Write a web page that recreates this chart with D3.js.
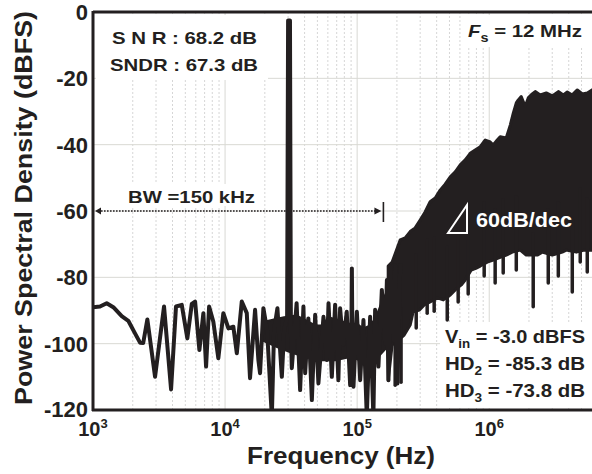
<!DOCTYPE html>
<html>
<head>
<meta charset="utf-8">
<script src="https://cdn.jsdelivr.net/npm/d3@7"></script>
<style>
  body { margin: 0; background: #fff; }
  svg text { font-family: "Liberation Sans", Arial, sans-serif; font-weight: bold; fill: #231f20; }
</style>
</head>
<body>
<div id="chart"></div>
<script>
// Output spectrum: [frequency (Hz), dBFS]
// in-band part, drawn as a thick line (includes the tone and HD3)
const lowBand = [
  [1000, -89.0], [1130, -88.8], [1270, -87.8], [1425, -89.0], [1650, -91.7], [1850, -93.1],
  [2080, -96.9], [2270, -99.7], [2400, -99.8], [2580, -92.7], [2950, -110.0], [3450, -88.8],
  [3900, -113.8], [4250, -88.8], [4700, -88.3], [5180, -98.4], [5600, -88.0], [5930, -87.3],
  [6390, -101.9], [6850, -90.8], [7180, -106.9], [7570, -88.8], [8150, -93.4], [8890, -104.4],
  [9700, -90.8], [10600, -95.4], [11550, -94.9], [12270, -102.9], [13380, -87.3], [14600, -90.8],
  [15450, -110.4], [16870, -89.8], [17870, -104.9], [18400, -108.9], [19500, -89.3], [20800, -95.9],
  [22600, -122], [23500, -95.9], [24900, -89.3], [26900, -110], [28000, -95.9], [29500, -92],
  [30000, -2.6], [31000, -2.6], [31500, -96],
  [32000, -107.4], [34800, -87.8], [37000, -114], [39200, -88.8], [40400, -108.9], [42700, -92.4],
  [45400, -117], [48100, -91.3], [50900, -112], [55600, -91.9], [58900, -104.9], [60700, -87.8],
  [64300, -110], [68100, -88.3], [72100, -111], [74300, -89.3], [78300, -100.4], [83400, -90.4],
  [88500, -112.5], [90300, -100], [91200, -77.3], [92100, -100], [93800, -113], [99500, -90.4],
  [105400, -111], [111600, -92.9], [118300, -122], [125400, -91.9], [132700, -122], [136800, -89.8],
  [144900, -106.9], [153800, -83.8], [163000, -99.9], [168000, -80.8], [172600, -111], [178000, -76.8],
  [188400, -98.9], [194000, -76.3], [202000, -112], [212000, -75.8]
];

// the dense core of the in-band noise, upper and lower edge
const inBandTop = [
  [19060, -93.5], [24770, -92.5], [28000, -92], [34500, -91.5], [39000, -92.5], [48100, -94.5],
  [55300, -94.5], [60300, -92], [74300, -93], [83900, -94], [100000, -94], [111000, -95.5],
  [125400, -94.5], [136800, -92.5], [152000, -88], [168800, -84]
];
const inBandBottom = [
  [19060, -99], [24770, -101], [31000, -102.5], [40400, -104], [52500, -105], [68100, -105],
  [88500, -104], [115000, -105.5], [144300, -104], [168800, -101]
];

// shaped noise above the band: upper and lower edge of the dense black mass
const noiseTop = [
  [171800, -76.6], [184000, -75.4], [212000, -68.7], [231000, -68.1], [252000, -66.2], [275000, -65.1],
  [300000, -62.7], [327000, -60.3], [357000, -57.2], [390000, -56.1], [425000, -53.7], [464000, -51.9],
  [507000, -49.7], [553000, -48.2], [603000, -46.1], [658000, -44.6], [718000, -42.6], [783000, -41.6],
  [855000, -40.6], [933000, -38.6], [1018000, -39.2], [1072000, -40.1], [1150000, -38.6], [1211000, -37.6],
  [1345000, -38.0], [1443000, -34.1], [1521000, -30.5], [1603000, -27.4], [1660000, -26.5], [1747000, -25.5],
  [1873000, -28.5], [1974000, -25.9], [2117000, -24.7], [2230000, -24.0], [2434000, -25.0], [2703000, -24.4],
  [3000000, -25.3], [3335000, -24.0], [3640000, -25.0], [3900000, -24.1], [4254000, -25.0], [4645000, -23.5],
  [5070000, -24.7], [5525000, -24.4], [6000000, -23.5]
];
const noiseBottom = [
  [171800, -111], [184000, -100.4], [205000, -98.9], [227000, -97.4], [252000, -94.4], [265000, -90.5],
  [295000, -89.9], [322000, -88.3], [357000, -87.4], [404000, -86.2], [449000, -86.8], [507000, -85.3],
  [553000, -83.8], [614000, -82.3], [658000, -80.8], [731000, -77.8], [798000, -77.2], [855000, -76.6],
  [966000, -75.4], [1072000, -74.8], [1169000, -74.2], [1345000, -73.3], [1493000, -72.4], [1718000, -71.8],
  [1906000, -73.3], [2310000, -73.3], [2523000, -72.4], [3000000, -73.3], [3573000, -72.4], [3828000, -71.8],
  [4564000, -72.4], [5248000, -71.8], [6000000, -71.8]
];
// narrow downward dips below the noise mass
const noiseDips = [
  [194000, -112.5], [215000, -111.6], [280000, -95.3], [339000, -90.8], [383000, -90.2], [481000, -92.9],
  [582000, -87.4], [693000, -85.0], [916000, -79.6], [1109000, -81.7], [1276000, -78.7], [1603000, -77.8],
  [2153000, -88.9], [2799000, -81.7], [3335000, -79.6], [4254000, -84.4], [4887000, -75.4], [5525000, -78.4]
];

const yTicks = [0, -20, -40, -60, -80, -100, -120];
const xDecades = [1e3, 1e4, 1e5, 1e6];
const bandwidth = 150e3;

const width = 592, height = 474;
const ink = "#231f20";

const svg = d3.select("#chart").append("svg")
    .attr("width", width)
    .attr("height", height);

const x = d3.scaleLog().domain([1e3, 6e6]).range([93, 592]);
const y = d3.scaleLinear().domain([-120, 0]).range([410, 12]);

// grid
const minor = [];
xDecades.forEach(d => { for (let k = 2; k <= 9; k++) if (d * k < 6e6) minor.push(d * k); });

svg.append("g").selectAll("line")
    .data(minor)
    .enter().append("line")
    .attr("x1", d => x(d)).attr("x2", d => x(d))
    .attr("y1", y(0)).attr("y2", y(-120))
    .attr("stroke", "#d6d6d6")
    .attr("stroke-dasharray", "2,2");

svg.append("g").selectAll("line")
    .data(xDecades.slice(1))
    .enter().append("line")
    .attr("x1", d => x(d)).attr("x2", d => x(d))
    .attr("y1", y(0)).attr("y2", y(-120))
    .attr("stroke", "#d9d9d4");

svg.append("g").selectAll("line")
    .data(yTicks.slice(1, -1))
    .enter().append("line")
    .attr("x1", 93).attr("x2", 592)
    .attr("y1", d => y(d)).attr("y2", d => y(d))
    .attr("stroke", "#d9d9d4");

// white boxes behind the annotations
[[96, 15, 172, 65], [120, 184, 142, 22], [462, 15, 128, 32], [440, 322, 152, 86]].forEach(b => {
    svg.append("rect").attr("x", b[0]).attr("y", b[1]).attr("width", b[2]).attr("height", b[3]).attr("fill", "#fff");
});

// data
svg.append("clipPath").attr("id", "plot")
    .append("rect").attr("x", 93).attr("y", 12).attr("width", 499).attr("height", 398);

const plot = svg.append("g").attr("clip-path", "url(#plot)");

// closed band between an upper and a lower edge
function band(top, bottom) {
    const pts = top.concat(bottom.slice().reverse());
    return d3.line().x(d => x(d[0])).y(d => y(d[1]))(pts) + "Z";
}

plot.append("path")
    .attr("d", band(inBandTop, inBandBottom))
    .attr("fill", ink)
    .attr("stroke", ink)
    .attr("stroke-width", 2)
    .attr("stroke-linejoin", "round");

plot.append("path")
    .attr("d", band(noiseTop, noiseBottom))
    .attr("fill", ink)
    .attr("stroke", ink)
    .attr("stroke-width", 3)
    .attr("stroke-linejoin", "round");

plot.append("g").selectAll("line")
    .data(noiseDips)
    .enter().append("line")
    .attr("x1", d => x(d[0])).attr("x2", d => x(d[0]))
    .attr("y1", d => y(d[1])).attr("y2", d => y(d[1] + 22))
    .attr("stroke", ink)
    .attr("stroke-width", 3.5)
    .attr("stroke-linecap", "round");

plot.append("path")
    .datum(lowBand)
    .attr("d", d3.line().x(d => x(d[0])).y(d => y(d[1])))
    .attr("fill", "none")
    .attr("stroke", ink)
    .attr("stroke-width", 4)
    .attr("stroke-linejoin", "round");

// frame
svg.append("line").attr("x1", 93).attr("x2", 592).attr("y1", 12).attr("y2", 12)
    .attr("stroke", ink).attr("stroke-width", 3);
svg.append("line").attr("x1", 93).attr("x2", 93).attr("y1", 11).attr("y2", 411)
    .attr("stroke", ink).attr("stroke-width", 3);
svg.append("line").attr("x1", 92).attr("x2", 592).attr("y1", 410).attr("y2", 410)
    .attr("stroke", ink).attr("stroke-width", 3);

// tick labels
svg.append("g").selectAll("text")
    .data(yTicks)
    .enter().append("text")
    .attr("x", 88)
    .attr("y", d => y(d) + (d === -120 ? 7 : 8))
    .attr("text-anchor", "end")
    .attr("font-size", 22)
    .text(d => d);

const xt = svg.append("g").selectAll("text")
    .data(xDecades)
    .enter().append("text")
    .attr("x", d => x(d))
    .attr("y", 436)
    .attr("text-anchor", "middle")
    .attr("font-size", 20);
xt.append("tspan").text("10");
xt.append("tspan").attr("font-size", 13).attr("dy", -8).text(d => Math.log10(d));

svg.append("text")
    .attr("x", 341).attr("y", 464)
    .attr("text-anchor", "middle")
    .attr("font-size", 23)
    .attr("textLength", 188).attr("lengthAdjust", "spacingAndGlyphs")
    .text("Frequency (Hz)");

svg.append("text")
    .attr("transform", "translate(32,208) rotate(-90)")
    .attr("text-anchor", "middle")
    .attr("font-size", 23)
    .attr("textLength", 394).attr("lengthAdjust", "spacingAndGlyphs")
    .text("Power Spectral Density (dBFS)");

// annotations
function label(xPos, yPos, str, len) {
    return svg.append("text").attr("x", xPos).attr("y", yPos).attr("font-size", 17)
        .attr("textLength", len).attr("lengthAdjust", "spacingAndGlyphs").text(str);
}
label(112, 44, "S N R : 68.2 dB", 145);
label(110, 71, "SNDR : 67.3 dB", 148);
label(128, 203, "BW =150 kHz", 127);

const fs = svg.append("text").attr("x", 468).attr("y", 37).attr("font-size", 17)
    .attr("textLength", 114).attr("lengthAdjust", "spacingAndGlyphs");
fs.append("tspan").attr("font-style", "italic").text("F");
fs.append("tspan").attr("font-size", 12).attr("dy", 5).text("s");
fs.append("tspan").attr("dy", -5).text(" = 12 MHz");

// bandwidth arrow
const bwY = y(-60), bwX = x(bandwidth);
svg.append("line")
    .attr("x1", 98).attr("x2", bwX - 5)
    .attr("y1", bwY).attr("y2", bwY)
    .attr("stroke", ink).attr("stroke-width", 1.6)
    .attr("stroke-dasharray", "1.6,1.4");
svg.append("path").attr("d", `M95,${bwY}l6,-3.5v7z`).attr("fill", ink);
svg.append("path").attr("d", `M${bwX + 1},${bwY}l-7,-3.5v7z`).attr("fill", ink);
svg.append("line")
    .attr("x1", bwX + 3).attr("x2", bwX + 3)
    .attr("y1", bwY - 9).attr("y2", bwY + 11)
    .attr("stroke", ink).attr("stroke-width", 1.6);

// 60 dB/dec slope marker
svg.append("path").attr("d", "M448,233L467,205L467,233Z")
    .attr("fill", "none").attr("stroke", "#fff").attr("stroke-width", 2);
svg.append("text").attr("x", 476).attr("y", 227).attr("font-size", 21)
    .attr("textLength", 96).attr("lengthAdjust", "spacingAndGlyphs")
    .style("fill", "#fff").text("60dB/dec");

// test conditions
const cond = [["V", "in", " = -3.0 dBFS", 343], ["HD", "2", " = -85.3 dB", 370], ["HD", "3", " = -73.8 dB", 397]];
cond.forEach(c => {
    const t = svg.append("text").attr("x", 445).attr("y", c[3]).attr("font-size", 18)
        .attr("textLength", 140).attr("lengthAdjust", "spacingAndGlyphs");
    t.append("tspan").text(c[0]);
    t.append("tspan").attr("font-size", 12).attr("dy", 5).text(c[1]);
    t.append("tspan").attr("dy", -5).text(c[2]);
});
</script>
</body>
</html>
